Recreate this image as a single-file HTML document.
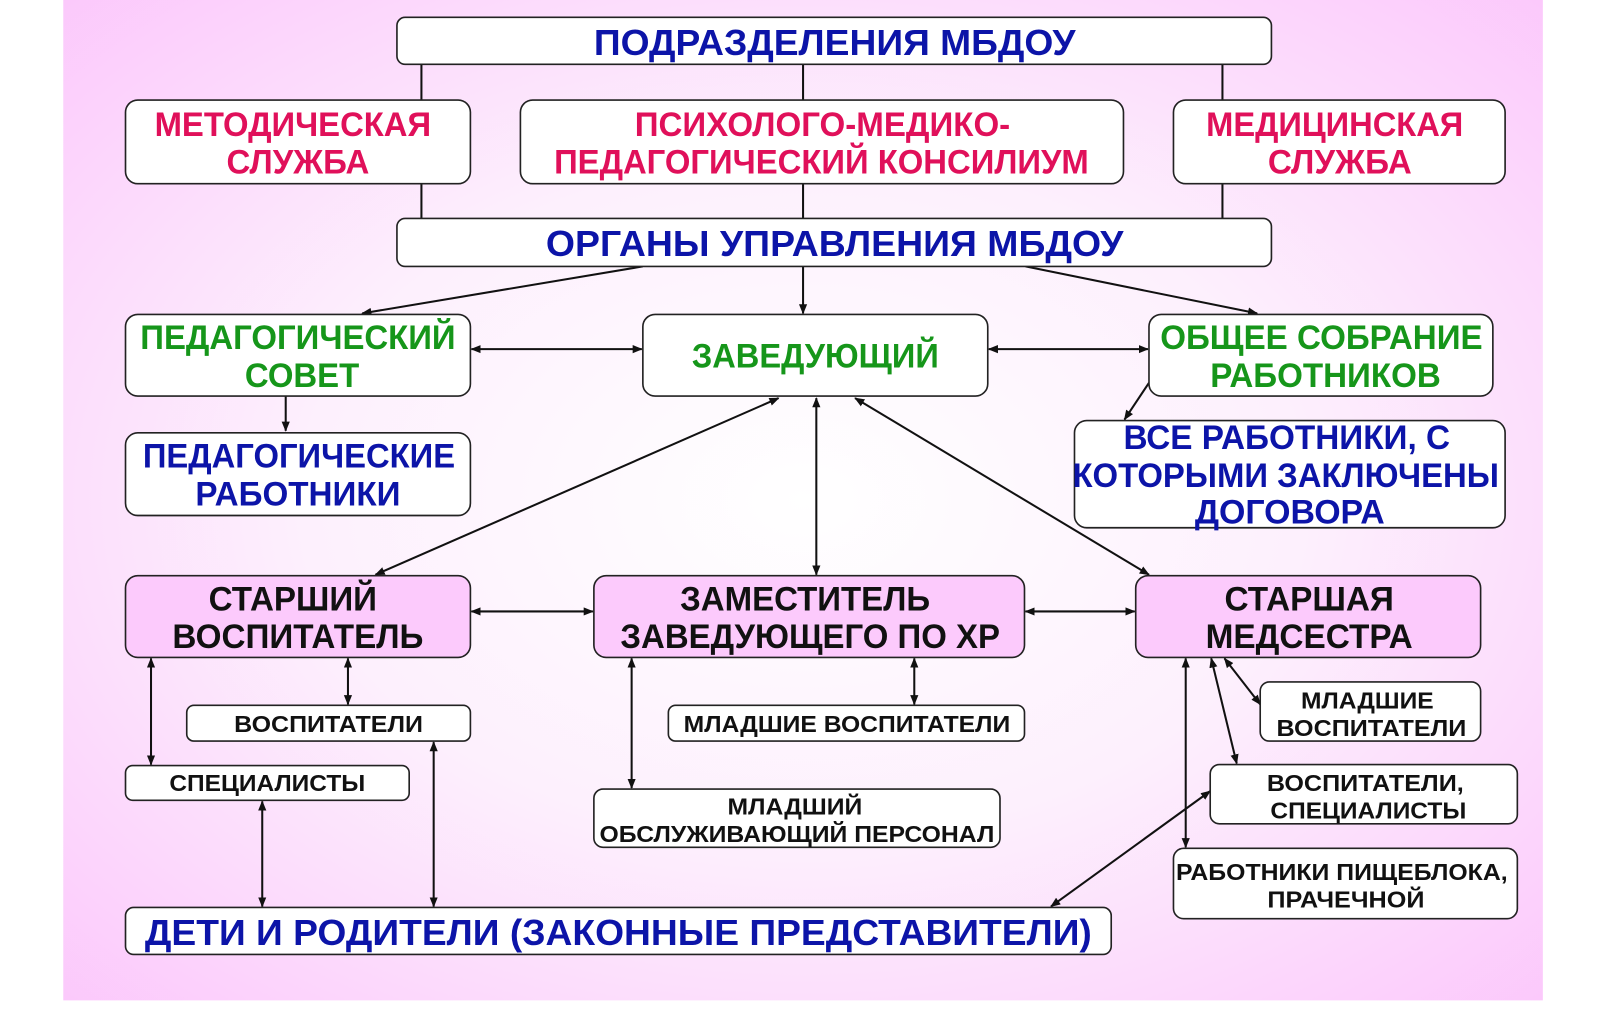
<!DOCTYPE html>
<html><head><meta charset="utf-8"><style>
html,body{margin:0;padding:0;background:#fff;}
svg{display:block;}
text{font-family:"Liberation Sans",Arial,sans-serif;font-weight:bold;text-anchor:middle;}
.b{fill:#fff;stroke:#222;stroke-width:1.6;}
.p{fill:#fccafc;stroke:#222;stroke-width:1.6;}
.l{stroke:#111;stroke-width:2;fill:none;}
.blue{fill:#0c14a8;font-size:35px;}
.red{fill:#e0105a;font-size:34px;}
.green{fill:#16961a;font-size:34px;}
.blk{fill:#111;font-size:34px;}
.sm{fill:#111;font-size:23px;}
</style></head><body>
<svg width="1600" height="1031" viewBox="0 0 1568 1010" preserveAspectRatio="none" xmlns="http://www.w3.org/2000/svg">
<defs>
<radialGradient id="bg" cx="0.5" cy="0.5" r="0.75">
<stop offset="0" stop-color="#ffffff"/>
<stop offset="0.45" stop-color="#fdf0fd"/>
<stop offset="1" stop-color="#fbc4fb"/>
</radialGradient>
<marker id="a" viewBox="0 0 10 10" refX="9" refY="5" markerWidth="5" markerHeight="5" orient="auto-start-reverse"><path d="M0,1 L10,5 L0,9 z" fill="#111"/></marker>
</defs>
<rect x="62" y="0" width="1450" height="980" fill="url(#bg)"/>

<path class="l" d="M413,63V98 M413,180V214 M787,63V98 M787,180V214 M1198,63V98 M1198,180V214"/>

<g class="l" marker-end="url(#a)">
<line x1="630" y1="261" x2="355" y2="307"/>
<line x1="787" y1="261" x2="787" y2="307"/>
<line x1="1005" y1="261" x2="1232" y2="307"/>
<line x1="280" y1="388" x2="280" y2="422"/>
<line x1="1126" y1="375" x2="1102" y2="411"/>
</g>
<g class="l" marker-start="url(#a)" marker-end="url(#a)">
<line x1="462" y1="342" x2="629" y2="342"/>
<line x1="969" y1="342" x2="1125" y2="342"/>
<line x1="763" y1="390" x2="368" y2="563"/>
<line x1="800" y1="390" x2="800" y2="563"/>
<line x1="838" y1="390" x2="1126" y2="563"/>
<line x1="462" y1="599" x2="581" y2="599"/>
<line x1="1005" y1="599" x2="1112" y2="599"/>
<line x1="148" y1="645" x2="148" y2="749"/>
<line x1="341" y1="645" x2="341" y2="690"/>
<line x1="257" y1="785" x2="257" y2="888"/>
<line x1="425" y1="727" x2="425" y2="888"/>
<line x1="619" y1="645" x2="619" y2="772"/>
<line x1="896" y1="645" x2="896" y2="690"/>
<line x1="1162" y1="645" x2="1162" y2="830"/>
<line x1="1187" y1="645" x2="1212" y2="748"/>
<line x1="1200" y1="645" x2="1235" y2="690"/>
<line x1="1186" y1="775" x2="1030" y2="888"/>
</g>

<rect class="b" x="389" y="17" width="857" height="46" rx="8"/>
<text class="blue" x="818" y="54" textLength="472" lengthAdjust="spacingAndGlyphs">ПОДРАЗДЕЛЕНИЯ МБДОУ</text>

<rect class="b" x="123" y="98" width="338" height="82" rx="12"/>
<text class="red" x="287" y="133" textLength="271" lengthAdjust="spacingAndGlyphs">МЕТОДИЧЕСКАЯ</text><text class="red" x="292" y="170" textLength="140" lengthAdjust="spacingAndGlyphs">СЛУЖБА</text>
<rect class="b" x="510" y="98" width="591" height="82" rx="12"/>
<text class="red" x="806" y="133" textLength="368" lengthAdjust="spacingAndGlyphs">ПСИХОЛОГО-МЕДИКО-</text><text class="red" x="805" y="170" textLength="524" lengthAdjust="spacingAndGlyphs">ПЕДАГОГИЧЕСКИЙ КОНСИЛИУМ</text>
<rect class="b" x="1150" y="98" width="325" height="82" rx="12"/>
<text class="red" x="1308" y="133" textLength="252" lengthAdjust="spacingAndGlyphs">МЕДИЦИНСКАЯ</text><text class="red" x="1313" y="170" textLength="141" lengthAdjust="spacingAndGlyphs">СЛУЖБА</text>

<rect class="b" x="389" y="214" width="857" height="47" rx="8"/>
<text class="blue" x="818" y="251" textLength="566" lengthAdjust="spacingAndGlyphs">ОРГАНЫ УПРАВЛЕНИЯ МБДОУ</text>

<rect class="b" x="123" y="308" width="338" height="80" rx="12"/>
<text class="green" x="292" y="342" textLength="309" lengthAdjust="spacingAndGlyphs">ПЕДАГОГИЧЕСКИЙ</text><text class="green" x="296" y="379" textLength="112" lengthAdjust="spacingAndGlyphs">СОВЕТ</text>
<rect class="b" x="630" y="308" width="338" height="80" rx="12"/>
<text class="green" x="799" y="360" textLength="242" lengthAdjust="spacingAndGlyphs">ЗАВЕДУЮЩИЙ</text>
<rect class="b" x="1126" y="308" width="337" height="80" rx="12"/>
<text class="green" x="1295" y="342" textLength="316" lengthAdjust="spacingAndGlyphs">ОБЩЕЕ СОБРАНИЕ</text><text class="green" x="1299" y="379" textLength="226" lengthAdjust="spacingAndGlyphs">РАБОТНИКОВ</text>

<rect class="b" x="123" y="424" width="338" height="81" rx="12"/>
<text class="blue" x="293" y="458" style="font-size:34px" textLength="306" lengthAdjust="spacingAndGlyphs">ПЕДАГОГИЧЕСКИЕ</text><text class="blue" x="292" y="495" style="font-size:34px" textLength="201" lengthAdjust="spacingAndGlyphs">РАБОТНИКИ</text>
<rect class="b" x="1053" y="412" width="422" height="105" rx="12"/>
<text class="blue" x="1261" y="440" style="font-size:34px" textLength="320" lengthAdjust="spacingAndGlyphs">ВСЕ РАБОТНИКИ, С</text><text class="blue" x="1260" y="477" style="font-size:34px" textLength="418" lengthAdjust="spacingAndGlyphs">КОТОРЫМИ ЗАКЛЮЧЕНЫ</text><text class="blue" x="1264" y="513" style="font-size:34px" textLength="186" lengthAdjust="spacingAndGlyphs">ДОГОВОРА</text>

<rect class="p" x="123" y="564" width="338" height="80" rx="12"/>
<text class="blk" x="287" y="598" textLength="165" lengthAdjust="spacingAndGlyphs">СТАРШИЙ</text><text class="blk" x="292" y="635" textLength="246" lengthAdjust="spacingAndGlyphs">ВОСПИТАТЕЛЬ</text>
<rect class="p" x="582" y="564" width="422" height="80" rx="12"/>
<text class="blk" x="789" y="598" textLength="245" lengthAdjust="spacingAndGlyphs">ЗАМЕСТИТЕЛЬ</text><text class="blk" x="794" y="635" textLength="372" lengthAdjust="spacingAndGlyphs">ЗАВЕДУЮЩЕГО ПО ХР</text>
<rect class="p" x="1113" y="564" width="338" height="80" rx="12"/>
<text class="blk" x="1283" y="598" textLength="166" lengthAdjust="spacingAndGlyphs">СТАРШАЯ</text><text class="blk" x="1283" y="635" textLength="203" lengthAdjust="spacingAndGlyphs">МЕДСЕСТРА</text>

<rect class="b" x="183" y="691" width="278" height="35" rx="7"/>
<text class="sm" x="322" y="717" textLength="185" lengthAdjust="spacingAndGlyphs">ВОСПИТАТЕЛИ</text>
<rect class="b" x="123" y="750" width="278" height="34" rx="7"/>
<text class="sm" x="262" y="775" textLength="192" lengthAdjust="spacingAndGlyphs">СПЕЦИАЛИСТЫ</text>
<rect class="b" x="655" y="691" width="349" height="35" rx="7"/>
<text class="sm" x="830" y="717" textLength="320" lengthAdjust="spacingAndGlyphs">МЛАДШИЕ ВОСПИТАТЕЛИ</text>
<rect class="b" x="582" y="773" width="398" height="57" rx="9"/>
<text class="sm" x="779" y="798" textLength="132" lengthAdjust="spacingAndGlyphs">МЛАДШИЙ</text><text class="sm" x="781" y="825" textLength="387" lengthAdjust="spacingAndGlyphs">ОБСЛУЖИВАЮЩИЙ ПЕРСОНАЛ</text>
<rect class="b" x="1235" y="668" width="216" height="58" rx="9"/>
<text class="sm" x="1340" y="694" textLength="130" lengthAdjust="spacingAndGlyphs">МЛАДШИЕ</text><text class="sm" x="1344" y="721" textLength="186" lengthAdjust="spacingAndGlyphs">ВОСПИТАТЕЛИ</text>
<rect class="b" x="1186" y="749" width="301" height="58" rx="9"/>
<text class="sm" x="1338" y="775" textLength="193" lengthAdjust="spacingAndGlyphs">ВОСПИТАТЕЛИ,</text><text class="sm" x="1341" y="802" textLength="192" lengthAdjust="spacingAndGlyphs">СПЕЦИАЛИСТЫ</text>
<rect class="b" x="1150" y="831" width="337" height="69" rx="10"/>
<text class="sm" x="1315" y="862" textLength="325" lengthAdjust="spacingAndGlyphs">РАБОТНИКИ ПИЩЕБЛОКА,</text><text class="sm" x="1319" y="889" textLength="154" lengthAdjust="spacingAndGlyphs">ПРАЧЕЧНОЙ</text>

<rect class="b" x="123" y="889" width="966" height="46" rx="8"/>
<text class="blue" x="606" y="926" textLength="928" lengthAdjust="spacingAndGlyphs">ДЕТИ И РОДИТЕЛИ (ЗАКОННЫЕ ПРЕДСТАВИТЕЛИ)</text>
</svg>
</body></html>
